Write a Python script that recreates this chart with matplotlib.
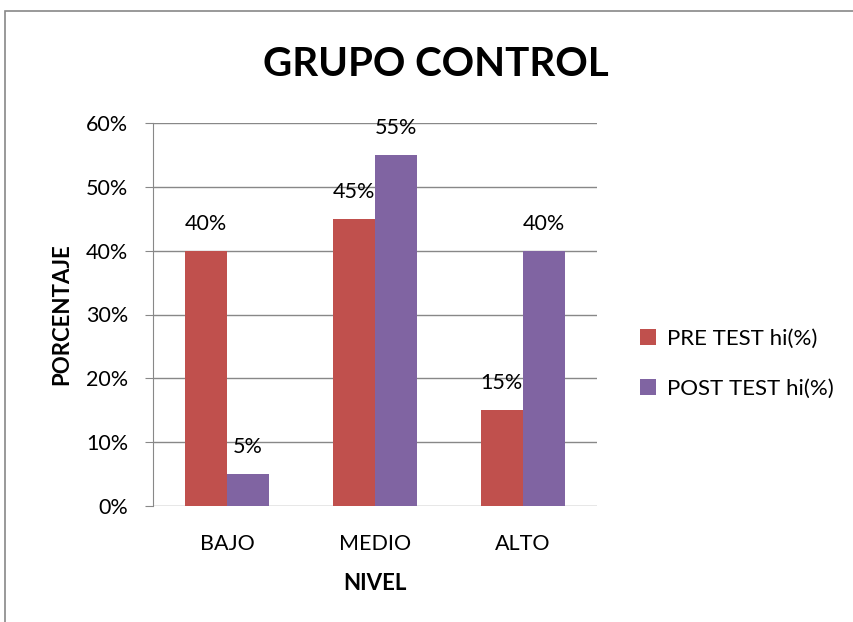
import matplotlib
matplotlib.use("Agg")
import matplotlib.pyplot as plt
import numpy as np
from matplotlib.patches import Rectangle
from matplotlib.ticker import FuncFormatter

categories = ["BAJO", "MEDIO", "ALTO"]
pre_test = [40, 45, 15]
post_test = [5, 55, 40]
series_names = ["PRE TEST hi(%)", "POST TEST hi(%)"]
yticks = [0, 10, 20, 30, 40, 50, 60]

plt.rcParams['font.family'] = ['Lato', 'DejaVu Sans']

fig = plt.figure(figsize=(8.54, 6.22), dpi=100)
W, H = 854, 622
ax = fig.add_axes([153 / W, 1 - 506 / H, (597 - 153) / W, (506 - 123) / H])

x = np.arange(len(categories))
bw = 1 / 3.5
red = "#C0504D"
purple = "#8064A2"
b1 = ax.bar(x - bw / 2, pre_test, bw, color=red, label=series_names[0], zorder=3)
b2 = ax.bar(x + bw / 2, post_test, bw, color=purple, label=series_names[1], zorder=3)

for bars, vals in ((b1, pre_test), (b2, post_test)):
    for r, v in zip(bars, vals):
        ax.annotate(f"{v}%", (r.get_x() + r.get_width() / 2, v), xytext=(0, 19.5),
                    textcoords="offset points", ha="center", va="center",
                    fontsize=15.5, color="black")

ax.set_xlim(-0.5, 2.5)
ax.set_ylim(0, 60)
ax.set_yticks(yticks)
ax.yaxis.set_major_formatter(FuncFormatter(lambda v, p: f"{int(v)}%"))
ax.set_xticks(x)
ax.set_xticklabels(categories)
ax.grid(axis="y", color="#888888", linewidth=1, zorder=0)
for s in ("top", "right", "bottom"):
    ax.spines[s].set_visible(False)
ax.spines["left"].set_color("#888888")
ax.tick_params(axis="y", length=6, color="#888888", labelsize=15.5, pad=12)
ax.tick_params(axis="x", length=0, labelsize=15.5, pad=20)

ax.set_ylabel("PORCENTAJE", fontsize=16, fontweight="bold", labelpad=10)
ax.set_xlabel("NIVEL", fontsize=16, fontweight="bold", labelpad=14)

fig.text(436 / W, 1 - 65 / H, "GRUPO CONTROL", ha="center", va="center",
         fontsize=29, fontweight="bold")

ax.legend(loc="center left", bbox_to_anchor=(620 / W, 1 - 364 / H),
          bbox_transform=fig.transFigure, frameon=False, fontsize=16,
          handlelength=0.7, handleheight=0.7, labelspacing=1.35, handletextpad=0.5)

fig.patches.append(Rectangle((5 / W, -0.1), 1.2, 1 - 11 / H + 0.1, transform=fig.transFigure,
                             fill=False, edgecolor="#888888", linewidth=1.2))

fig.savefig("out.png", dpi=100)
